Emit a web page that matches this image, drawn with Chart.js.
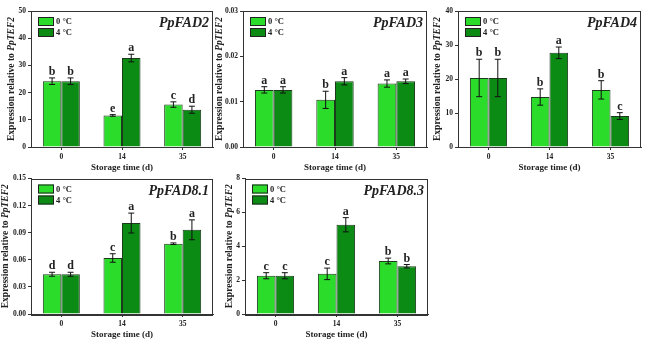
<!DOCTYPE html>
<html>
<head>
<meta charset="utf-8">
<script src="https://cdn.jsdelivr.net/npm/chart.js@4.4.1/dist/chart.umd.min.js"></script>
<style>
  body { margin:0; background:#fff; width:650px; height:344px; overflow:hidden; position:relative; }
  canvas { position:absolute; }
</style>
</head>
<body>
<script>
// storage time categories (days)
const categories = ['0', '14', '35'];
const seriesNames = ['0 \u00B0C', '4 \u00B0C'];

// PpFAD2
const fad2Mean0 = [24.2, 11.6, 15.6];
const fad2Mean4 = [24.2, 32.7, 13.7];
const fad2Err0  = [1.2, 0.3, 1.0];
const fad2Err4  = [1.2, 1.4, 1.3];
const fad2Sig0  = ['b', 'e', 'c'];
const fad2Sig4  = ['b', 'a', 'd'];
const fad2Ticks = ['0', '10', '20', '30', '40', '50'];

// PpFAD3
const fad3Mean0 = [0.0126, 0.0104, 0.0140];
const fad3Mean4 = [0.0126, 0.0145, 0.0145];
const fad3Err0  = [0.0007, 0.0019, 0.0008];
const fad3Err4  = [0.0007, 0.0008, 0.0005];
const fad3Sig0  = ['a', 'b', 'a'];
const fad3Sig4  = ['a', 'a', 'a'];
const fad3Ticks = ['0.00', '0.01', '0.02', '0.03'];

// PpFAD4
const fad4Mean0 = [20.3, 14.7, 16.8];
const fad4Mean4 = [20.3, 27.7, 9.1];
const fad4Err0  = [5.5, 2.4, 2.7];
const fad4Err4  = [5.5, 1.7, 1.0];
const fad4Sig0  = ['b', 'b', 'b'];
const fad4Sig4  = ['b', 'a', 'c'];
const fad4Ticks = ['0', '10', '20', '30', '40'];

// PpFAD8.1
const fad81Mean0 = [0.0440, 0.0620, 0.0778];
const fad81Mean4 = [0.0440, 0.1007, 0.0932];
const fad81Err0  = [0.0022, 0.0047, 0.0009];
const fad81Err4  = [0.0022, 0.0110, 0.0110];
const fad81Sig0  = ['d', 'c', 'b'];
const fad81Sig4  = ['d', 'a', 'a'];
const fad81Ticks = ['0.00', '0.03', '0.06', '0.09', '0.12', '0.15'];

// PpFAD8.3
const fad83Mean0 = [2.26, 2.37, 3.13];
const fad83Mean4 = [2.26, 5.27, 2.82];
const fad83Err0  = [0.18, 0.34, 0.17];
const fad83Err4  = [0.18, 0.42, 0.10];
const fad83Sig0  = ['c', 'c', 'b'];
const fad83Sig4  = ['c', 'a', 'b'];
const fad83Ticks = ['0', '2', '4', '6', '8'];

const LIGHT = '#2bdc2b';
const DARK = '#0b8a14';
const INK = '#222';
const SERIF = '"Liberation Serif", "Times New Roman", serif';

// panel placement on the page
const panels = [
  { id:'p1', gene:'PpFAD2',   m:[fad2Mean0, fad2Mean4],   e:[fad2Err0, fad2Err4],   s:[fad2Sig0, fad2Sig4],   ticks:fad2Ticks,
    left:0,   top:0,   w:218, yw:31, padT:11, padR:5, padB:0, titleX:12 },
  { id:'p2', gene:'PpFAD3',   m:[fad3Mean0, fad3Mean4],   e:[fad3Err0, fad3Err4],   s:[fad3Sig0, fad3Sig4],   ticks:fad3Ticks,
    left:214, top:0,   w:218, yw:29, padT:11, padR:5, padB:0, titleX:6 },
  { id:'p3', gene:'PpFAD4',   m:[fad4Mean0, fad4Mean4],   e:[fad4Err0, fad4Err4],   s:[fad4Sig0, fad4Sig4],   ticks:fad4Ticks,
    left:429, top:0,   w:221, yw:29, padT:11, padR:9, padB:0, titleX:9 },
  { id:'p4', gene:'PpFAD8.1', m:[fad81Mean0, fad81Mean4], e:[fad81Err0, fad81Err4], s:[fad81Sig0, fad81Sig4], ticks:fad81Ticks,
    left:0,   top:172, w:218, yw:31, padT:5,  padR:5, padB:5, titleX:6 },
  { id:'p5', gene:'PpFAD8.3', m:[fad83Mean0, fad83Mean4], e:[fad83Err0, fad83Err4], s:[fad83Sig0, fad83Sig4], ticks:fad83Ticks,
    left:214, top:172, w:218, yw:31, padT:5,  padR:4, padB:5, titleX:16 }
];

const decorPlugin = {
  id: 'decor',
  afterDatasetsDraw(chart) {
    const p = chart.options.plugins.decor;
    const ctx = chart.ctx, y = chart.scales.y, a = chart.chartArea;
    ctx.save();
    // error bars + significance letters
    chart.data.datasets.forEach((ds, di) => {
      chart.getDatasetMeta(di).data.forEach((bar, i) => {
        const v = ds.data[i], err = p.e[di][i];
        const yt = y.getPixelForValue(v + err), yb = y.getPixelForValue(v - err);
        ctx.strokeStyle = '#111';
        ctx.lineWidth = 1;
        ctx.beginPath();
        ctx.moveTo(bar.x, yb); ctx.lineTo(bar.x, yt);
        ctx.moveTo(bar.x - 3, yt); ctx.lineTo(bar.x + 3, yt);
        ctx.moveTo(bar.x - 3, yb); ctx.lineTo(bar.x + 3, yb);
        ctx.stroke();
        ctx.fillStyle = INK;
        ctx.font = 'bold 12px ' + SERIF;
        ctx.textAlign = 'center';
        ctx.textBaseline = 'alphabetic';
        ctx.fillText(p.s[di][i], bar.x, yt - 3);
      });
    });
    // frame
    ctx.strokeStyle = '#333';
    ctx.lineWidth = 1;
    ctx.strokeRect(Math.round(a.left) + 0.5, Math.round(a.top) + 0.5,
                   Math.round(a.right - a.left) - 1, Math.round(a.bottom - a.top));
    // gene name
    ctx.fillStyle = INK;
    ctx.font = 'italic bold 14px ' + SERIF;
    ctx.textAlign = 'right';
    ctx.textBaseline = 'alphabetic';
    ctx.fillText(p.gene, a.right - 4, a.top + 16);
    // legend
    chart.data.datasets.forEach((ds, di) => {
      const bx = a.left + 7, by = a.top + 6 + di * 11;
      ctx.fillStyle = ds.backgroundColor;
      ctx.fillRect(bx, by, 16, 9);
      ctx.strokeStyle = '#222';
      ctx.strokeRect(bx + 0.5, by + 0.5, 15, 8);
      ctx.fillStyle = INK;
      ctx.font = 'bold 8.5px ' + SERIF;
      ctx.textAlign = 'left';
      ctx.textBaseline = 'middle';
      ctx.fillText(ds.label, bx + 18, by + 5);
    });
    // y title with italic reference gene
    const t1 = 'Expression relative to ', t2 = 'PpTEF2';
    const f1 = 'bold 9.5px ' + SERIF, f2 = 'italic bold 9.5px ' + SERIF;
    ctx.font = f1; const w1 = ctx.measureText(t1).width;
    ctx.font = f2; const w2 = ctx.measureText(t2).width;
    ctx.translate(p.titleX, (a.top + a.bottom) / 2);
    ctx.rotate(-Math.PI / 2);
    ctx.textBaseline = 'middle';
    ctx.textAlign = 'left';
    ctx.font = f1; ctx.fillText(t1, -(w1 + w2) / 2, 0);
    ctx.font = f2; ctx.fillText(t2, -(w1 + w2) / 2 + w1, 0);
    ctx.restore();
  }
};

panels.forEach(p => {
  const cv = document.createElement('canvas');
  cv.id = p.id;
  cv.width = p.w; cv.height = 172;
  cv.style.left = p.left + 'px'; cv.style.top = p.top + 'px';
  cv.style.width = p.w + 'px'; cv.style.height = '172px';
  document.body.appendChild(cv);

  const tickVals = p.ticks.map(Number);
  const tickFont = { family: SERIF, weight: 'bold', size: 7.5 };

  new Chart(cv, {
    type: 'bar',
    data: {
      labels: categories,
      datasets: [0, 1].map(k => ({
        label: seriesNames[k],
        data: p.m[k],
        backgroundColor: k === 0 ? LIGHT : DARK,
        borderColor: '#1c3a1c',
        borderWidth: 1,
        categoryPercentage: 0.61,
        barPercentage: 1.0
      }))
    },
    options: {
      responsive: false,
      animation: false,
      devicePixelRatio: 1,
      layout: { padding: { top: p.padT, right: p.padR, bottom: p.padB, left: 0 } },
      plugins: {
        legend: { display: false },
        tooltip: { enabled: false },
        decor: { gene: p.gene, e: p.e, s: p.s, titleX: p.titleX }
      },
      scales: {
        x: {
          grid: { offset: false, drawOnChartArea: false, tickLength: 3, color: '#333' },
          border: { color: '#333' },
          ticks: { font: tickFont, color: INK, padding: 3 },
          title: { display: true, text: 'Storage time (d)', color: INK, padding: 0,
                   font: { family: SERIF, weight: 'bold', size: 9, lineHeight: 1 } },
          afterFit: s => { s.height = 25; }
        },
        y: {
          min: tickVals[0],
          max: tickVals[tickVals.length - 1],
          afterBuildTicks: s => { s.ticks = tickVals.map(v => ({ value: v })); },
          grid: { drawOnChartArea: false, tickLength: 3, color: '#333' },
          border: { color: '#333' },
          ticks: { font: tickFont, color: INK, padding: 2,
                   callback: (v) => p.ticks[tickVals.indexOf(v)] ?? '' },
          afterFit: s => { s.width = p.yw; }
        }
      }
    },
    plugins: [decorPlugin]
  });
});
</script>
</body>
</html>
